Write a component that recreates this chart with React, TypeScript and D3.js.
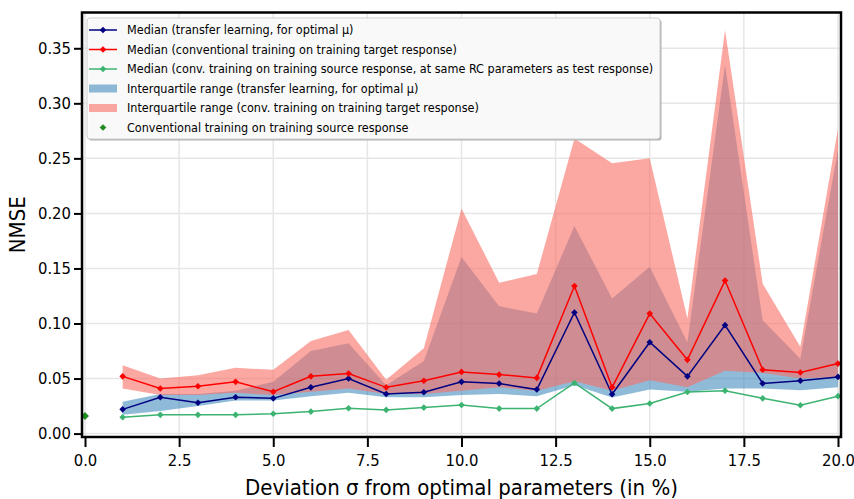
import React, { useEffect, useRef } from 'react';
import * as d3 from 'd3';

// deviation sigma (%) for the series
const sigma = [1, 2, 3, 4, 5, 6, 7, 8, 9, 10, 11, 12, 13, 14, 15, 16, 17, 18, 19, 20];

const medianTransfer = [0.022, 0.033, 0.028, 0.033, 0.032, 0.042, 0.050, 0.036, 0.0375, 0.047,
    0.0455, 0.040, 0.110, 0.0357, 0.083, 0.052, 0.0985, 0.0455, 0.048, 0.0515];
const medianTarget = [0.052, 0.041, 0.043, 0.047, 0.038, 0.052, 0.0545, 0.042, 0.048, 0.056,
    0.0536, 0.0506, 0.134, 0.042, 0.109, 0.067, 0.139, 0.058, 0.0555, 0.0636];
const medianSource = [0.0148, 0.017, 0.017, 0.017, 0.018, 0.020, 0.023, 0.0215, 0.0236, 0.026,
    0.0227, 0.0227, 0.046, 0.0227, 0.0273, 0.0378, 0.039, 0.032, 0.0257, 0.034];

const iqrTransferLow = [0.017, 0.0205, 0.025, 0.030, 0.030, 0.034, 0.037, 0.033, 0.033, 0.035,
    0.036, 0.034, 0.044, 0.0327, 0.040, 0.038, 0.041, 0.041, 0.0394, 0.042];
const iqrTransferHigh = [0.029, 0.036, 0.036, 0.039, 0.047, 0.075, 0.082, 0.044, 0.066, 0.1605,
    0.1157, 0.109, 0.1885, 0.1227, 0.1515, 0.083, 0.335, 0.103, 0.068, 0.2575];
const iqrTargetLow = [0.041, 0.035, 0.035, 0.037, 0.035, 0.038, 0.041, 0.036, 0.036, 0.039,
    0.042, 0.039, 0.0475, 0.039, 0.0485, 0.042, 0.057, 0.055, 0.050, 0.0515];
const iqrTargetHigh = [0.062, 0.050, 0.053, 0.0597, 0.058, 0.084, 0.094, 0.049, 0.0775, 0.2045,
    0.137, 0.145, 0.268, 0.2455, 0.25, 0.1045, 0.3666, 0.136, 0.0788, 0.277];

const sourceAtZero = [{ x: 0, y: 0.016 }];

const xTicks = [0, 2.5, 5, 7.5, 10, 12.5, 15, 17.5, 20];
const yTicks = [0, 0.05, 0.10, 0.15, 0.20, 0.25, 0.30, 0.35];

const legendItems = [
    { kind: 'line', color: '#000080', label: 'Median (transfer learning, for optimal μ)' },
    { kind: 'line', color: '#ff0000', label: 'Median (conventional training on training target response)' },
    { kind: 'line', color: '#3cb371', label: 'Median (conv. training on training source response, at same RC parameters as test response)' },
    { kind: 'patch', color: 'rgba(31,119,180,0.5)', label: 'Interquartile range (transfer learning, for optimal μ)' },
    { kind: 'patch', color: 'rgba(250,110,100,0.6)', label: 'Interquartile range (conv. training on training target response)' },
    { kind: 'dot', color: '#228b22', label: 'Conventional training on training source response' },
];

const FONT = '"DejaVu Sans Condensed", "DejaVu Sans", sans-serif';

const App = () => {
    const ref = useRef(null);

    useEffect(() => {
        const svgWidth = 854, svgHeight = 499;
        const margin = { top: 12.5, right: 13, bottom: 62, left: 82 };
        const width = svgWidth - margin.left - margin.right,
            height = svgHeight - margin.top - margin.bottom;

        const svg = d3.select(ref.current);
        svg.selectAll('*').remove();
        svg.attr('width', svgWidth).attr('height', svgHeight);

        svg.append('rect').attr('width', svgWidth).attr('height', svgHeight).attr('fill', '#fff');

        const x = d3.scaleLinear().domain([-0.08, 20.08]).range([0, width]);
        const y = d3.scaleLinear().domain([-0.0031, 0.3825]).range([height, 0]);

        const chart = svg.append('g').attr('transform', `translate(${margin.left},${margin.top})`);

        const defs = svg.append('defs');
        defs.append('clipPath').attr('id', 'plot-clip')
            .append('rect').attr('width', width).attr('height', height);

        // grid
        chart.append('g').selectAll('line').data(xTicks).enter().append('line')
            .attr('x1', d => x(d)).attr('x2', d => x(d)).attr('y1', 0).attr('y2', height)
            .attr('stroke', '#e6e6e6').attr('stroke-width', 1.5);
        chart.append('g').selectAll('line').data(yTicks).enter().append('line')
            .attr('y1', d => y(d)).attr('y2', d => y(d)).attr('x1', 0).attr('x2', width)
            .attr('stroke', '#e6e6e6').attr('stroke-width', 1.5);

        const plot = chart.append('g').attr('clip-path', 'url(#plot-clip)');

        const band = (lo, hi) => d3.area()
            .x((d, i) => x(sigma[i]))
            .y0((d, i) => y(lo[i]))
            .y1((d, i) => y(hi[i]));

        plot.append('path').datum(sigma)
            .attr('d', band(iqrTransferLow, iqrTransferHigh))
            .attr('fill', 'rgba(31,119,180,0.5)');
        plot.append('path').datum(sigma)
            .attr('d', band(iqrTargetLow, iqrTargetHigh))
            .attr('fill', 'rgba(250,110,100,0.6)');

        const diamond = d3.symbol().type(d3.symbolDiamond2).size(28);

        const drawSeries = (values, color) => {
            const pts = sigma.map((s, i) => [s, values[i]]);
            plot.append('path').datum(pts)
                .attr('fill', 'none')
                .attr('stroke', color)
                .attr('stroke-width', 1.5)
                .attr('d', d3.line().x(d => x(d[0])).y(d => y(d[1])));
            plot.append('g').selectAll('path').data(pts).enter().append('path')
                .attr('transform', d => `translate(${x(d[0])},${y(d[1])})`)
                .attr('d', diamond)
                .attr('fill', color);
        };
        drawSeries(medianTransfer, '#000080');
        drawSeries(medianTarget, '#ff0000');
        drawSeries(medianSource, '#3cb371');

        plot.append('g').selectAll('path').data(sourceAtZero).enter().append('path')
            .attr('transform', d => `translate(${x(d.x)},${y(d.y)})`)
            .attr('d', d3.symbol().type(d3.symbolDiamond2).size(40))
            .attr('fill', '#228b22');

        // axes
        const xAxis = chart.append('g').attr('transform', `translate(0,${height})`)
            .call(d3.axisBottom(x).tickValues(xTicks).tickFormat(d3.format('.1f')).tickSize(10).tickPadding(7));
        const yAxis = chart.append('g')
            .call(d3.axisLeft(y).tickValues(yTicks).tickFormat(d3.format('.2f')).tickSize(8).tickPadding(3));
        [xAxis, yAxis].forEach(a => {
            a.select('.domain').remove();
            a.selectAll('line').attr('stroke', '#000').attr('stroke-width', 2);
            a.selectAll('text').attr('fill', '#000').style('font-family', FONT).style('font-size', '16.5px');
        });

        chart.append('rect').attr('width', width).attr('height', height)
            .attr('fill', 'none').attr('stroke', '#000').attr('stroke-width', 2.5);

        chart.append('text')
            .attr('x', width / 2).attr('y', height + 58)
            .attr('text-anchor', 'middle')
            .style('font-family', FONT).style('font-size', '22px')
            .text('Deviation σ from optimal parameters (in %)');

        chart.append('text')
            .attr('transform', `translate(${-57},${height / 2}) rotate(-90)`)
            .attr('text-anchor', 'middle')
            .style('font-family', FONT).style('font-size', '22px')
            .text('NMSE');

        // legend
        const legend = chart.append('g').attr('transform', 'translate(5,5.5)');
        const lw = 573, lh = 121;
        legend.append('rect').attr('x', 1.5).attr('y', 1.5).attr('width', lw).attr('height', lh)
            .attr('rx', 3).attr('fill', '#b0b0b0');
        legend.append('rect').attr('width', lw).attr('height', lh)
            .attr('rx', 3).attr('fill', 'rgba(255,255,255,0.92)').attr('stroke', '#cccccc');

        legendItems.forEach((item, i) => {
            const row = legend.append('g').attr('transform', `translate(0,${12 + i * 19.5})`);
            if (item.kind === 'line') {
                row.append('line').attr('x1', 2).attr('x2', 30).attr('y1', 0).attr('y2', 0)
                    .attr('stroke', item.color).attr('stroke-width', 1.5);
                row.append('path').attr('transform', 'translate(16,0)').attr('d', diamond).attr('fill', item.color);
            } else if (item.kind === 'patch') {
                row.append('rect').attr('x', 2).attr('y', -4).attr('width', 28).attr('height', 8)
                    .attr('fill', item.color);
            } else {
                row.append('path').attr('transform', 'translate(16,0)').attr('d', diamond).attr('fill', item.color);
            }
            row.append('text').attr('x', 40).attr('y', 0).attr('dy', '0.35em')
                .style('font-family', FONT).style('font-size', '12.5px')
                .text(item.label);
        });
    }, []);

    return <svg ref={ref} style={{ position: 'absolute', left: 0, top: 0 }} />;
};

export default App;
